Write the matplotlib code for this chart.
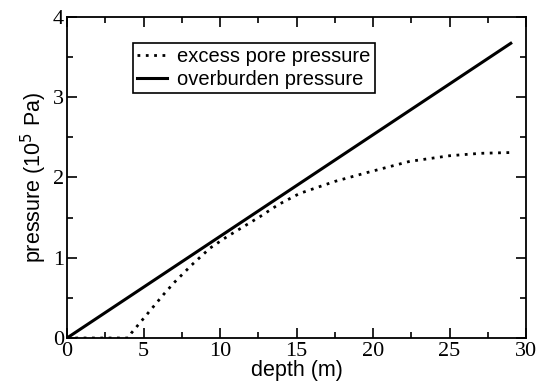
import numpy as np
import matplotlib
matplotlib.use('Agg')
import matplotlib.pyplot as plt
from matplotlib.ticker import MultipleLocator

plt.rcParams['font.family'] = 'Liberation Serif'

# values
depth_ob = [0, 29]
overburden = [0, 3.67]

depth_pore = [0, 4.0, 4.2, 4.55, 5.25, 6.3, 7.0, 8.15, 9.35, 10.44, 12.6, 13.8,
              15.2, 17.5, 19.6, 22.4, 25.0, 27.0, 29.0]
pore = [0, 0, 0.06, 0.14, 0.30, 0.54, 0.69, 0.91, 1.12, 1.26, 1.51, 1.66,
        1.80, 1.95, 2.06, 2.20, 2.27, 2.30, 2.31]

fig = plt.figure(figsize=(5.39, 3.91), dpi=100)
ax = fig.add_axes([0.1243, 0.1355, 0.8517, 0.8215])

ax.plot(depth_pore, pore, color='black', lw=2.0, linestyle=(0, (1, 2.0)),
        dash_capstyle='butt', label='excess pore pressure')
ax.plot(depth_ob, overburden, color='black', lw=2.2, label='overburden pressure')

ax.set_xlim(0, 30)
ax.set_ylim(0, 4)
ax.xaxis.set_major_locator(MultipleLocator(5))
ax.xaxis.set_minor_locator(MultipleLocator(2.5))
ax.yaxis.set_major_locator(MultipleLocator(1))
ax.yaxis.set_minor_locator(MultipleLocator(0.5))
ax.tick_params(which='both', direction='in', top=True, right=True, width=1.2)
ax.tick_params(which='major', length=7, labelsize=16)
ax.tick_params(axis='x', which='major', pad=3)
ax.tick_params(axis='y', which='major', pad=2)
ax.tick_params(which='minor', length=4)
for s in ax.spines.values():
    s.set_linewidth(1.3)

ax.set_xlabel('depth (m)', fontsize=15.5, family='Liberation Sans', labelpad=-1)
ax.set_ylabel('pressure (10$^5$ Pa)', fontsize=15.5, family='Liberation Sans', labelpad=3)

leg = ax.legend(loc='upper left', bbox_to_anchor=(0.144, 0.918), fancybox=False,
                edgecolor='black', framealpha=1, handlelength=1.5, handletextpad=0.5,
                borderpad=0.2, labelspacing=0.2, borderaxespad=0,
                prop={'family': 'Liberation Sans', 'size': 14.5})
leg.get_frame().set_linewidth(1.2)

fig.savefig('out.png', dpi=100)
